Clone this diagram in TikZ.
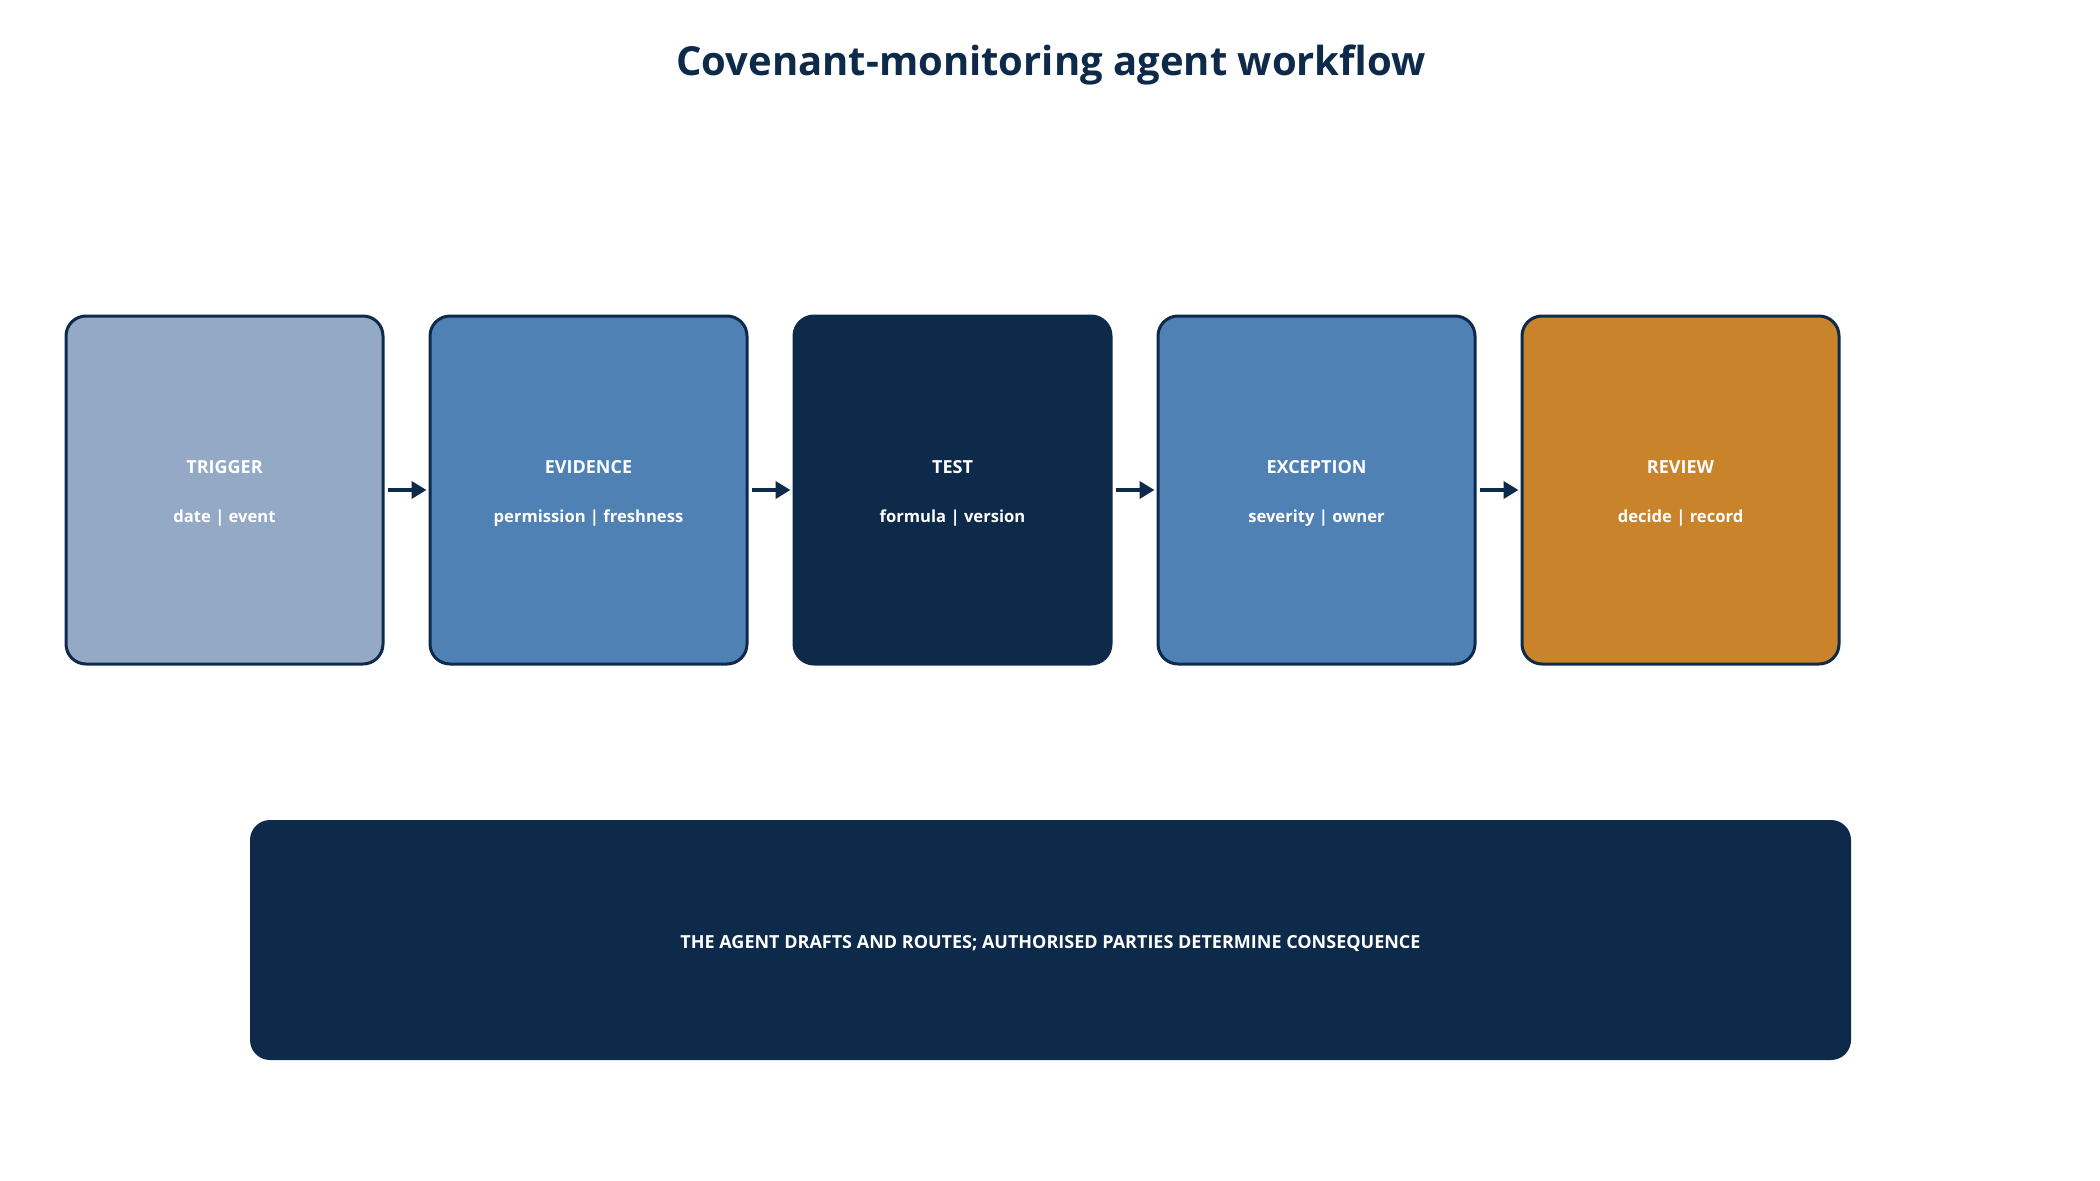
\documentclass[tikz,border=0pt]{standalone}
\usepackage{fontspec}
\setmainfont{Open Sans}
\usetikzlibrary{arrows.meta}
\definecolor{navy}{HTML}{0E2A4A}
\definecolor{paleblue}{HTML}{94A9C6}
\definecolor{midblue}{HTML}{4F81B5}
\definecolor{amber}{HTML}{C9832A}
\tikzset{
  stagebox/.style={draw=navy, line width=3pt, rounded corners=20pt,
    minimum width=317pt, minimum height=348pt, inner sep=0pt},
  headtxt/.style={text=white, font=\fontsize{18}{20}\selectfont\bfseries},
  subtxt/.style={text=white, font=\fontsize{16.6}{20}\selectfont\bfseries},
  flow/.style={draw=navy, line width=4pt, -{Triangle[length=15pt,width=17pt]},
    shorten <=3pt, shorten >=2pt},
}
\begin{document}
\begin{tikzpicture}[x=1pt,y=-1pt]
\useasboundingbox[fill=white] (0,0) rectangle (2100,1180);
\node[text=navy, font=\fontsize{40}{44}\selectfont\bfseries] (title) at (1051,65) {Covenant-monitoring agent workflow};

\node[stagebox, fill=paleblue] (trigger) at (224.5,490) {};
\node[stagebox, fill=midblue] (evidence) at (588.5,490) {};
\node[stagebox, fill=navy] (test) at (952.5,490) {};
\node[stagebox, fill=midblue] (exception) at (1316.5,490) {};
\node[stagebox, fill=amber] (review) at (1680.5,490) {};

\foreach \n/\h/\s in {trigger/TRIGGER/date | event, evidence/EVIDENCE/permission | freshness, test/TEST/formula | version, exception/EXCEPTION/severity | owner, review/REVIEW/decide | record}{
  \node[headtxt] (\n-h) at ([yshift=23pt]\n.center) {\h};
  \node[subtxt] (\n-s) at ([yshift=-28pt]\n.center) {\s};
}

\draw[flow] (trigger.east) -- (evidence.west);
\draw[flow] (evidence.east) -- (test.west);
\draw[flow] (test.east) -- (exception.west);
\draw[flow] (exception.east) -- (review.west);

\node[fill=navy, rounded corners=20pt, minimum width=1601pt, minimum height=240pt] (note) at (1050.5,940) {};
\node[text=white, font=\fontsize{18}{20}\selectfont\bfseries] (note-t) at ([yshift=-3pt]note.center)
  {THE AGENT DRAFTS AND ROUTES; AUTHORISED PARTIES DETERMINE CONSEQUENCE};
\end{tikzpicture}
\end{document}
